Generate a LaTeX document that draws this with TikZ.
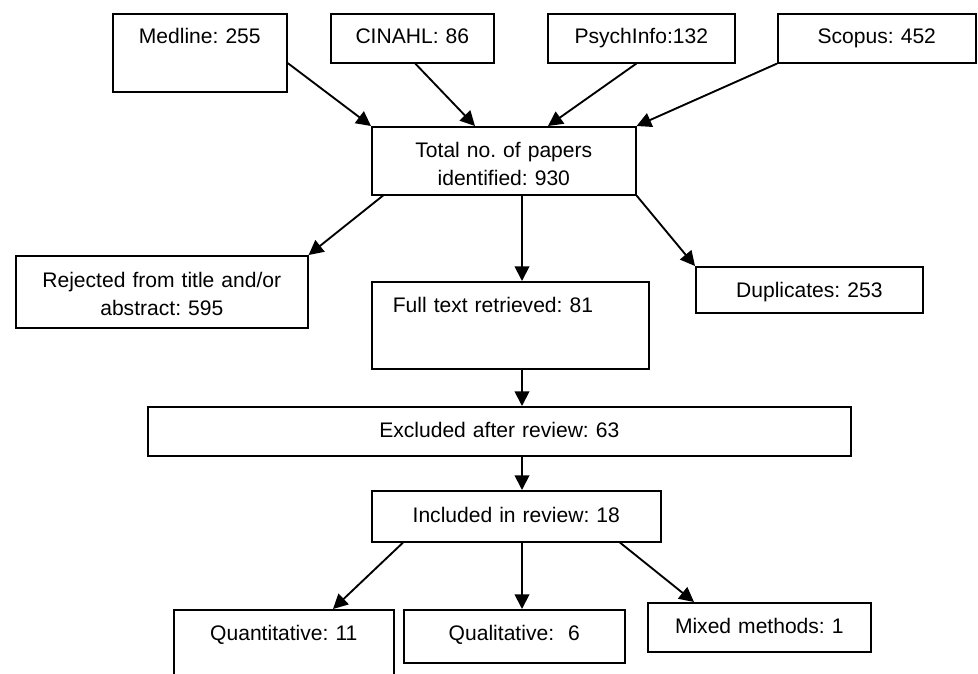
\documentclass[tikz,border=0pt]{standalone}
\usepackage{fontspec}
\setmainfont{Liberation Sans}
\usetikzlibrary{arrows.meta,calc}
\frenchspacing
\tikzset{
  box/.style={draw, line width=1.2pt, anchor=north west, inner xsep=0pt, inner ysep=0pt, align=center, font=\fontsize{15.8pt}{21pt}\selectfont},
  arr/.style={line width=1.4pt, -{Triangle[length=11pt,width=11pt]}}
}
\begin{document}
\begin{tikzpicture}[x=0.75pt,y=-0.75pt]
\path[use as bounding box] (0,0) rectangle (978,674);
\clip (0,0) rectangle (978,674);
\node[box, text width=130.5pt, text height=22.5pt, text depth=36pt] (med) at (112,13) {Medline: 255};
\node[box, text width=122.25pt, text height=22.5pt, text depth=14.25pt] (cin) at (330,13) {CINAHL: 86};
\node[box, text width=140.25pt, text height=22.5pt, text depth=14.25pt] (psy) at (547,13) {PsychInfo:132};
\node[box, text width=148.5pt, text height=22.5pt, text depth=14.25pt] (sco) at (777,13) {Scopus: 452};
\node[box, text width=198pt, text height=23.25pt, text depth=27.75pt] (tot) at (371,126) {Total no. of papers\\identified: 930};
\node[box, text width=219pt, text height=24pt, text depth=30pt] (rej) at (15,255) {Rejected from title and/or\\abstract: 595};
\node[box, align=left, text width=207.75pt, text height=23.25pt, text depth=42pt] (full) at (371,281) {\hspace*{15.75pt}Full text retrieved: 81};
\node[box, text width=170.25pt, text height=23.25pt, text depth=11.25pt] (dup) at (695,266) {Duplicates: 253};
\node[box, text width=527.25pt, text height=23.25pt, text depth=13.5pt] (exc) at (147,406) {Excluded after review: 63};
\node[box, text width=216.75pt, text height=24pt, text depth=14.25pt] (inc) at (371,490) {Included in review: 18};
\node[box, text width=165pt, text height=23.25pt, text depth=45pt] (qua) at (173,609) {Quantitative: 11};
\node[box, text width=165.75pt, text height=23.25pt, text depth=16.5pt] (qul) at (403,609) {Qualitative:\ \ 6};
\node[box, text width=167.25pt, text height=23.25pt, text depth=13.5pt] (mix) at (647,602) {Mixed methods: 1};
\coordinate (sp) at (522,0);
\draw[arr] ($(med.north east)+(0,50)$) -- (tot.north west);
\draw[arr] ($(cin.south)+(3,0)$) -- ($(tot.north west)+(104,0)$);
\draw[arr] ($(psy.south)+(-5,0)$) -- ($(tot.north west)+(177,0)$);
\draw[arr] (sco.south west) -- (tot.north east);
\draw[arr] ($(tot.south west)+(12,0)$) -- (rej.north east);
\draw[arr] (sp |- tot.south) -- (sp |- full.north);
\draw[arr] (tot.south east) -- (dup.north west);
\draw[arr] (sp |- full.south) -- (sp |- exc.north);
\draw[arr] (sp |- exc.south) -- (sp |- inc.north);
\draw[arr] ($(inc.south west)+(32,0)$) -- ($(qua.north west)+(160,0)$);
\draw[arr] (sp |- inc.south) -- (sp |- qul.north);
\draw[arr] ($(inc.south west)+(249,0)$) -- ($(mix.north west)+(47,0)$);
\end{tikzpicture}
\end{document}
